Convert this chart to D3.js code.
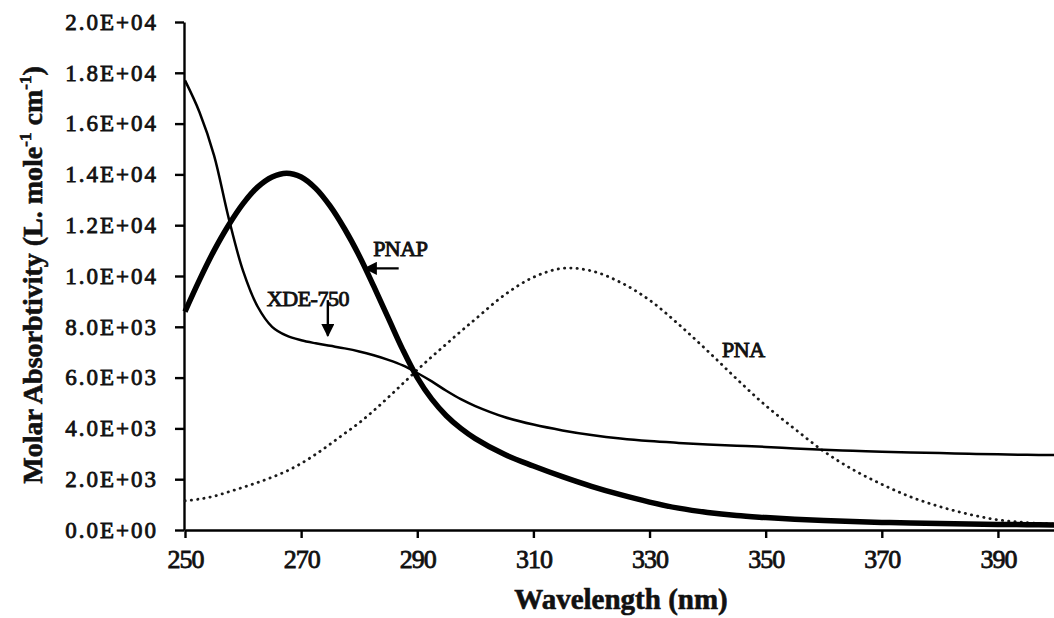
<!DOCTYPE html>
<html>
<head>
  <meta charset="utf-8">
  <title>Molar Absorbtivity</title>
  <script src="https://d3js.org/d3.v7.min.js"></script>
  <style>
  body { margin: 0; background: #fff; }
  svg { display: block; font-family: "Liberation Serif", "DejaVu Serif", serif; }
  </style>
</head>
<body>
<div id="chart"></div>

<script type="text/javascript">
// wavelength grid (nm) shared by the three spectra
var wavelengths = [250, 252.5, 255, 257.5, 260, 262.5, 265, 267.5, 270, 272.5, 275, 277.5, 280, 282.5, 285, 287.5, 290, 292.5, 295, 297.5, 300,
  305, 310, 315, 320, 325, 330, 335, 340, 345, 350, 355, 360, 365, 370, 375, 380, 385, 390, 395, 400];

// molar absorbtivity, L mole-1 cm-1
var xde750 = [17700, 16450, 14750, 12300, 10200, 8800, 8000, 7650, 7470, 7350, 7250, 7150, 7030, 6880, 6700, 6480, 6180, 5850, 5480, 5150, 4880,
  4450, 4150, 3920, 3740, 3600, 3500, 3430, 3370, 3320, 3270, 3210, 3160, 3120, 3080, 3050, 3030, 3000, 2980, 2960, 2950];
var pnap = [8600, 9850, 11000, 12000, 12850, 13500, 13900, 14050, 13900, 13450, 12750, 11850, 10800, 9600, 8350, 7100, 6000, 5150, 4500, 4000, 3600,
  2980, 2520, 2100, 1720, 1390, 1100, 860, 690, 570, 490, 420, 370, 330, 300, 280, 260, 240, 220, 210, 200];
var pna = [1150, 1220, 1330, 1500, 1680, 1870, 2080, 2320, 2620, 2980, 3380, 3800, 4220, 4700, 5220, 5760, 6300, 6820, 7320, 7820, 8300,
  9250, 9950, 10300, 10200, 9750, 9050, 8100, 7050, 5950, 4900, 3980, 3100, 2380, 1800, 1300, 920, 620, 400, 290, 230];

var xTicks = [250, 270, 290, 310, 330, 350, 370, 390];
var yTicks = [0, 2000, 4000, 6000, 8000, 10000, 12000, 14000, 16000, 18000, 20000];
var yTickLabels = ["0.0E+00", "2.0E+03", "4.0E+03", "6.0E+03", "8.0E+03", "1.0E+04", "1.2E+04", "1.4E+04", "1.6E+04", "1.8E+04", "2.0E+04"];

// curve labels: [wavelength, value] of the text start
var labelNames = ["PNAP", "XDE-750", "PNA"];
var labelAt = [[282.4, 10800], [264.1, 8800], [342.5, 6800]];
// arrows: from [wavelength, value] to [wavelength, value]
var arrowFrom = [[286.8, 10300], [274.6, 9050]];
var arrowTo = [[281.0, 10300], [274.6, 7650]];

var WIDTH = 1054, HEIGHT = 618;
var svg = d3.select("#chart").append("svg")
  .attr("width", WIDTH)
  .attr("height", HEIGHT);

svg.append("rect").attr("width", WIDTH).attr("height", HEIGHT).attr("fill", "#fff");

var x = d3.scaleLinear().domain([250, 400]).range([185, 1056]);
var y = d3.scaleLinear().domain([0, 20000]).range([530, 22]);

// axes
var xAxis = svg.append("g")
  .attr("transform", "translate(0," + y(0) + ")")
  .call(d3.axisBottom(x).tickValues(xTicks).tickFormat(d3.format("d")).tickSize(8).tickSizeOuter(0).tickPadding(12));
xAxis.select(".domain").attr("stroke", "#000").attr("stroke-width", 2.4);
xAxis.selectAll(".tick line").attr("stroke", "#000").attr("stroke-width", 2.4);
xAxis.selectAll(".tick text")
  .attr("fill", "#111")
  .style("font-family", "Liberation Serif, serif")
  .style("font-size", "26px")
  .style("letter-spacing", "-1px")
  .attr("stroke", "#111").attr("stroke-width", 0.8);

var yAxis = svg.append("g")
  .attr("transform", "translate(" + (x(250) - 1) + ",0)")
  .call(d3.axisLeft(y).tickValues(yTicks).tickFormat(function(d, i) { return yTickLabels[i]; })
    .tickSize(9).tickSizeOuter(0).tickPadding(17));
yAxis.select(".domain").attr("stroke", "#000").attr("stroke-width", 2.4);
yAxis.selectAll(".tick line").attr("stroke", "#000").attr("stroke-width", 2.4);
yAxis.selectAll(".tick text")
  .attr("fill", "#111")
  .style("font-family", "Liberation Serif, serif")
  .style("font-size", "23px")
  .style("letter-spacing", "2px")
  .attr("stroke", "#111").attr("stroke-width", 0.8);

// axis titles
svg.append("text")
  .attr("x", 621)
  .attr("y", 609)
  .attr("text-anchor", "middle")
  .style("font-size", "29px")
  .style("font-weight", "bold")
  .attr("fill", "#111")
  .attr("stroke", "#111").attr("stroke-width", 0.6)
  .text("Wavelength (nm)");

var yTitle = svg.append("text")
  .attr("transform", "translate(42,275) rotate(-90)")
  .attr("text-anchor", "middle")
  .style("font-size", "28px")
  .style("font-weight", "bold")
  .attr("fill", "#111")
  .attr("stroke", "#111").attr("stroke-width", 0.6);
yTitle.append("tspan").text("Molar Absorbtivity (L. mole");
yTitle.append("tspan").attr("dy", -11).style("font-size", "17px").text("-1");
yTitle.append("tspan").attr("dy", 11).text(" cm");
yTitle.append("tspan").attr("dy", -11).style("font-size", "17px").text("-1");
yTitle.append("tspan").attr("dy", 11).text(")");

// spectra
function spectrum(values) {
  return d3.line()
    .x(function(d, i) { return x(wavelengths[i]); })
    .y(function(d) { return y(d); })
    .curve(d3.curveCatmullRom.alpha(0.5))(values);
}

svg.append("path")
  .attr("d", spectrum(pna))
  .attr("fill", "none")
  .attr("stroke", "#1a1a1a")
  .attr("stroke-width", 2.8)
  .attr("stroke-linecap", "round")
  .attr("stroke-dasharray", "0.3,6");

svg.append("path")
  .attr("d", spectrum(xde750))
  .attr("fill", "none")
  .attr("stroke", "#000")
  .attr("stroke-width", 2.5);

svg.append("path")
  .attr("d", spectrum(pnap))
  .attr("fill", "none")
  .attr("stroke", "#000")
  .attr("stroke-width", 5.5);

// labels and arrows
svg.selectAll(".curve-label")
  .data(labelNames)
  .enter().append("text")
  .attr("class", "curve-label")
  .attr("x", function(d, i) { return x(labelAt[i][0]); })
  .attr("y", function(d, i) { return y(labelAt[i][1]); })
  .style("font-size", "22px")
  .style("letter-spacing", "-0.5px")
  .attr("fill", "#111")
  .attr("stroke", "#111")
  .attr("stroke-width", 0.9)
  .text(function(d) { return d; });

var defs = svg.append("defs");
defs.append("marker")
  .attr("id", "head")
  .attr("viewBox", "0 0 10 10")
  .attr("refX", 9)
  .attr("refY", 5)
  .attr("markerWidth", 5.5)
  .attr("markerHeight", 5.5)
  .attr("markerUnits", "strokeWidth")
  .attr("orient", "auto")
  .append("path")
  .attr("d", "M0,0L10,5L0,10Z")
  .attr("fill", "#000");

arrowFrom.forEach(function(p, i) {
  svg.append("line")
    .attr("x1", x(p[0]))
    .attr("y1", y(p[1]))
    .attr("x2", x(arrowTo[i][0]))
    .attr("y2", y(arrowTo[i][1]))
    .attr("stroke", "#000")
    .attr("stroke-width", 2.4)
    .attr("marker-end", "url(#head)");
});
</script>
</body>
</html>
